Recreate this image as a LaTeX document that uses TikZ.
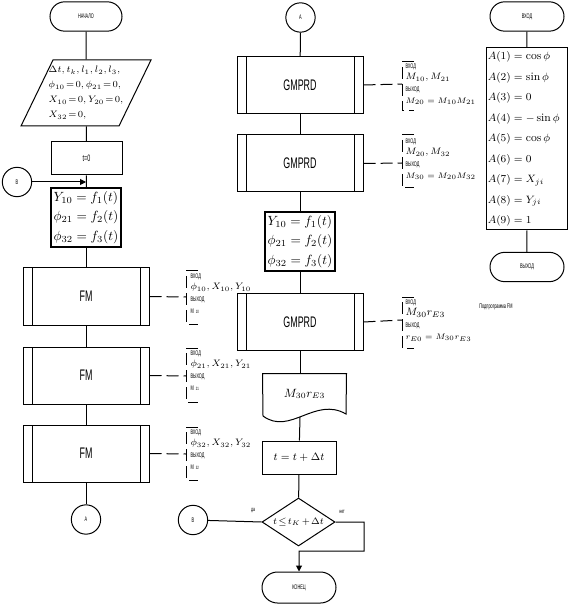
\documentclass[tikz,border=0pt]{standalone}
\usepackage{fontspec}
\newfontfamily\narrowsf[FakeStretch=0.58]{Liberation Sans}
\usetikzlibrary{shapes.geometric,shapes.misc,arrows.meta}
\newcommand\tightmath{\thickmuskip=2mu\relax\medmuskip=2mu\relax}

\tikzset{every picture/.style={line width=0.75pt}}
\tikzset{
  term/.style={draw, rounded rectangle, minimum width=54pt, minimum height=22pt, inner sep=0pt, font=\narrowsf\fontsize{5}{6}\selectfont},
  conn/.style={draw, circle, minimum size=22pt, inner sep=0pt, font=\narrowsf\fontsize{5}{6}\selectfont},
  procbox/.style={draw, rectangle, inner sep=1pt},
  eqbox/.style={draw, line width=1.1pt, minimum width=52.5pt, minimum height=44.25pt, inner sep=1pt, align=left, font=\fontsize{10}{14.75}\selectfont},
  subproc/.style={draw, minimum width=94.5pt, minimum height=42.75pt, font=\narrowsf\fontsize{11.5}{12}\selectfont,
    path picture={
      \draw ([xshift=6.75pt]path picture bounding box.north west) -- ([xshift=6.75pt]path picture bounding box.south west);
      \draw ([xshift=-6.75pt]path picture bounding box.north east) -- ([xshift=-6.75pt]path picture bounding box.south east);
    }},
  decision/.style={draw, diamond, minimum width=54.75pt, minimum height=36pt, inner sep=0pt},
  arr/.style={-{Triangle[length=4.5pt,width=4.5pt]}},
  note/.style={dash pattern={on 9pt off 3.75pt}},
  notetext/.style={anchor=north west, inner sep=0pt, align=left, font=\narrowsf\fontsize{5}{8.8}\selectfont},
  tiny/.style={inner sep=0pt, font=\narrowsf\fontsize{4.5}{5}\selectfont}
}

\begin{document}
\begin{tikzpicture}[x=0.75pt,y=0.75pt,yscale=-1,xscale=1]
\useasboundingbox (0,0) rectangle (577,605);

%Left column
\node[term] (start) at (86,16.5) {НАЧАЛО};
\node[minimum height=49.5pt, inner sep=0pt, align=left, font=\fontsize{7}{11.25}\selectfont] (inp) at (86,93)
  {$\tightmath\Delta t, t_k, l_1, l_2, l_3,$\\ $\tightmath\phi_{10}=0, \phi_{21}=0,$\\ $\tightmath X_{10}=0, Y_{20}=0,$\\ $\tightmath X_{32}=0,$};
\draw (53,60) -- (151,60) -- (119,126) -- (21,126) -- cycle;
\node[procbox, minimum width=53.25pt, minimum height=24.75pt, font=\narrowsf\fontsize{7}{8}\selectfont] (t0) at (86.5,158.5) {t=0};
\node[conn] (B1) at (17,182) {B};
\coordinate (jB) at (86,182);
\node[eqbox] (feq1) at (86,217.5) {$Y_{10}=f_1(t)$\\ $\phi_{21}=f_2(t)$\\ $\phi_{32}=f_3(t)$};
\node[subproc] (fm1) at (86,296.5) {FM};
\node[subproc] (fm2) at (86,375.5) {FM};
\node[subproc] (fm3) at (86,453.5) {FM};
\node[conn] (A1) at (86,519.5) {A};

\draw (start) -- (inp);
\draw (inp) -- (t0);
\draw (t0) -- (feq1);
\draw[arr] (B1) -- (jB);
\draw (feq1) -- (fm1);
\draw (fm1) -- (fm2);
\draw (fm2) -- (fm3);
\draw (fm3) -- (A1);

%Left notes
\coordinate (c1) at (186,297);
\coordinate (c2) at (186,376);
\coordinate (c3) at (186,454);
\draw[note] (fm1.east) -- (c1);
\draw[note] (fm2.east) -- (c2);
\draw[note] (fm3.east) -- (c3);
\draw[note] (198,271) -- (186,271) -- (186,324) -- (198,324);
\draw[note] (198,348) -- (186,348) -- (186,402) -- (198,402);
\draw[note] (198,427) -- (186,427) -- (186,480) -- (198,480);
\node[notetext] (n1) at (190,273) {ВХОД\\ {\rmfamily\fontsize{7}{8.8}\selectfont $\phi_{10}, X_{10}, Y_{10}$}\\ ВЫХОД\\ M\ \ {\fontsize{3.5}{4}\selectfont 10}};
\node[notetext] (n2) at (190,350) {ВХОД\\ {\rmfamily\fontsize{7}{8.8}\selectfont $\phi_{21}, X_{21}, Y_{21}$}\\ ВЫХОД\\ M\ \ {\fontsize{3.5}{4}\selectfont 21}};
\node[notetext] (n3) at (190,429) {ВХОД\\ {\rmfamily\fontsize{7}{8.8}\selectfont $\phi_{32}, X_{32}, Y_{32}$}\\ ВЫХОД\\ M\ \ {\fontsize{3.5}{4}\selectfont 32}};

%Middle column
\node[conn] (A2) at (300.5,17.5) {A};
\node[subproc] (gm1) at (300,85) {GMPRD};
\node[subproc] (gm2) at (300,163.5) {GMPRD};
\node[eqbox] (feq2) at (300,241.5) {$Y_{10}=f_1(t)$\\ $\phi_{21}=f_2(t)$\\ $\phi_{32}=f_3(t)$};
\node[subproc] (gm3) at (300,322) {GMPRD};
\node[minimum width=62.25pt, minimum height=30pt, inner sep=0pt, font=\fontsize{9}{10}\selectfont] (doc) at (304.5,394) {$M_{30}r_{E3}$};
\draw (doc.north west) -- (doc.north east) -- (346,414) .. controls (315,396) and (290,436) .. (263,416) -- cycle;
\coordinate (docb) at (300,417);
\node[procbox, minimum width=55.5pt, minimum height=24.75pt, font=\fontsize{8.5}{10}\selectfont] (tstep) at (299,457.5) {$t=t+\Delta t$};
\node[decision] (dec) at (298.5,522) {};
\node[inner sep=0pt, font=\fontsize{7}{8}\selectfont] (dectxt) at (dec) {$\tightmath t\le t_K+\Delta t$};
\node[conn] (B2) at (193,520) {B};
\node[term, minimum width=55.5pt, minimum height=23.25pt] (stop) at (299,587.5) {КОНЕЦ};
\coordinate (merge) at (299,551);
\node[tiny] (yes) at (253,510) {да};
\node[tiny] (no) at (342,512) {нет};

\draw (A2) -- (gm1);
\draw (gm1) -- (gm2);
\draw (gm2) -- (feq2);
\draw (feq2) -- (gm3);
\draw (gm3.south) -- (gm3.south |- doc.north);
\draw (docb) -- (tstep);
\draw (tstep) -- (dec);
\draw (dec.west) -- (B2);
\draw[arr] (dec.east) -| (364,551) -- (merge) -- (stop);

%Middle notes
\coordinate (c4) at (402,84);
\coordinate (c5) at (402,163);
\coordinate (c6) at (402,320);
\draw[note] (gm1.east) -- (c4);
\draw[note] (gm2.east) -- (c5);
\draw[note] (gm3.east) -- (c6);
\draw[note] (414,62) -- (402,62) -- (402,111) -- (414,111);
\draw[note] (414,135) -- (402,135) -- (402,188) -- (414,188);
\draw[note] (414,297) -- (402,297) -- (402,348) -- (414,348);
\node[notetext] (n4) at (405,63) {ВХОД\\ {\rmfamily\fontsize{7.5}{8.8}\selectfont $M_{10}, M_{21}$}\\ ВЫХОД\\ {\rmfamily\fontsize{6.5}{8.8}\selectfont $M_{20}=M_{10}M_{21}$}};
\node[notetext] (n5) at (405,138) {ВХОД\\ {\rmfamily\fontsize{7.5}{8.8}\selectfont $M_{20}, M_{32}$}\\ ВЫХОД\\ {\rmfamily\fontsize{6.5}{8.8}\selectfont $M_{30}=M_{20}M_{32}$}};
\node[notetext] (n6) at (405,299) {ВХОД\\ {\rmfamily\fontsize{8.5}{8.8}\selectfont $M_{30}r_{E3}$}\\ ВЫХОД\\ {\rmfamily\fontsize{6.5}{8.8}\selectfont $r_{E0}=M_{30}r_{E3}$}};

%Right column
\node[term, minimum width=55.5pt] (vin) at (527,16.5) {ВХОД};
\node[draw, minimum width=60.75pt, minimum height=136.5pt, inner xsep=1pt, inner ysep=0pt, text width=58pt, align=left, font=\fontsize{8.5}{15.4}\selectfont] (abox) at (526.5,139)
  {$A(1)=\cos\phi$\\ $A(2)=\sin\phi$\\ $A(3)=0$\\ $A(4)=-\sin\phi$\\ $A(5)=\cos\phi$\\ $A(6)=0$\\ $A(7)=X_{ji}$\\ $A(8)=Y_{ji}$\\ $A(9)=1$};
\node[term, minimum width=55.5pt] (vout) at (527,267) {ВЫХОД};
\node[inner sep=0pt, font=\narrowsf\fontsize{5}{6}\selectfont] (subt) at (496,307) {Подпрограмма FM};

\draw (vin) -- (abox);
\draw (abox) -- (vout);

\end{tikzpicture}
\end{document}
